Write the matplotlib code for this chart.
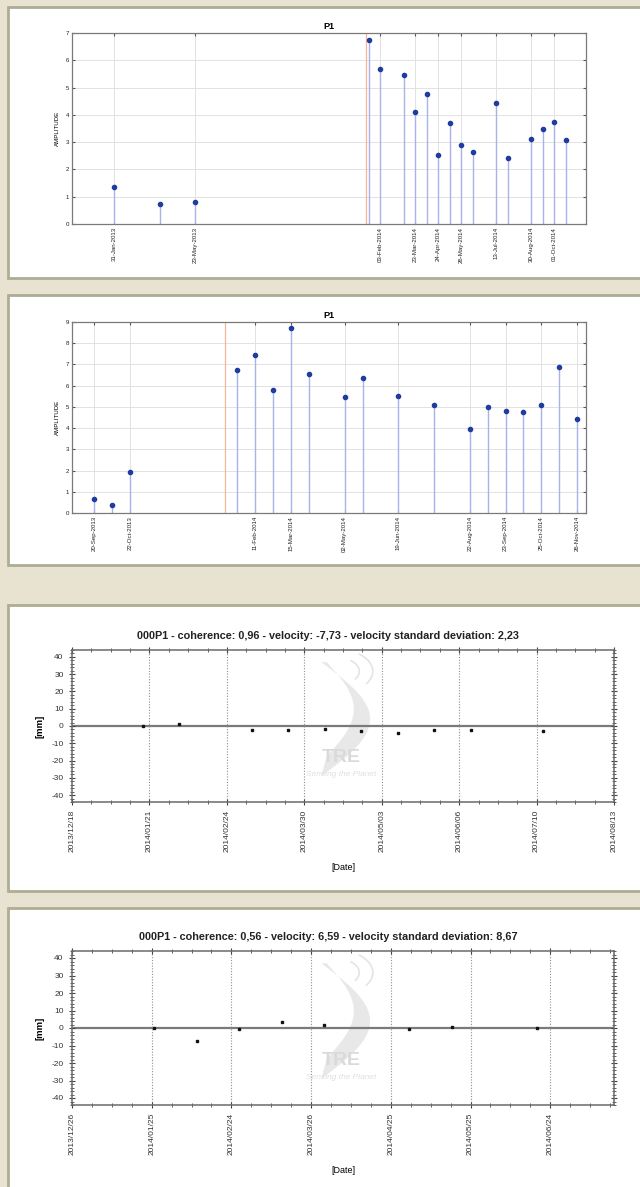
import numpy as np
import pandas as pd
import matplotlib
matplotlib.use("Agg")
import matplotlib.pyplot as plt
import matplotlib.dates as mdates
from matplotlib.patches import Rectangle, Polygon

W, H = 640, 1187

# ---- panel 1 : amplitude stems ----
p1_dates = ['2013-01-31', '2013-04-05', '2013-05-23', '2014-01-18', '2014-02-03',
            '2014-03-07', '2014-03-23', '2014-04-08', '2014-04-24', '2014-05-10',
            '2014-05-26', '2014-06-11', '2014-07-13', '2014-07-29', '2014-08-30',
            '2014-09-15', '2014-10-01', '2014-10-17']
p1_amp = [1.37, 0.73, 0.81, 6.74, 5.67, 5.47, 4.10, 4.75, 2.54, 3.71,
          2.88, 2.64, 4.45, 2.43, 3.10, 3.49, 3.74, 3.08]
p1_ticks = ['2013-01-31', '2013-05-23', '2014-02-03', '2014-03-23', '2014-04-24',
            '2014-05-26', '2014-07-13', '2014-08-30', '2014-10-01']
p1_xlim = ['2012-12-04', '2014-11-14']
p1_event = '2014-01-14'

# ---- panel 2 : amplitude stems ----
p2_dates = ['2013-09-20', '2013-10-06', '2013-10-22', '2014-01-26', '2014-02-11',
            '2014-02-27', '2014-03-15', '2014-03-31', '2014-05-02', '2014-05-18',
            '2014-06-19', '2014-07-21', '2014-08-22', '2014-09-07', '2014-09-23',
            '2014-10-09', '2014-10-25', '2014-11-10', '2014-11-26']
p2_amp = [0.68, 0.40, 1.91, 6.73, 7.44, 5.80, 8.74, 6.57, 5.47, 6.35,
          5.52, 5.07, 3.97, 5.00, 4.82, 4.77, 5.07, 6.90, 4.41]
p2_ticks = ['2013-09-20', '2013-10-22', '2014-02-11', '2014-03-15', '2014-05-02',
            '2014-06-19', '2014-08-22', '2014-09-23', '2014-10-25', '2014-11-26']
p2_xlim = ['2013-08-31', '2014-12-04']
p2_event = '2014-01-15'

# ---- panel 3 : displacement ----
p3_title = '000P1 - coherence: 0,96 - velocity: -7,73 - velocity standard deviation: 2,23'
p3_dates = ['2014-01-18', '2014-02-03', '2014-03-07', '2014-03-23', '2014-04-08',
            '2014-04-24', '2014-05-10', '2014-05-26', '2014-06-11', '2014-07-13']
p3_mm = [0.0, 1.4, -2.6, -2.1, -1.5, -3.0, -4.0, -2.6, -2.6, -3.0]
p3_ticks = ['2013-12-18', '2014-01-21', '2014-02-24', '2014-03-30', '2014-05-03',
            '2014-06-06', '2014-07-10', '2014-08-13']

# ---- panel 4 : displacement ----
p4_title = '000P1 - coherence: 0,56 - velocity: 6,59 - velocity standard deviation: 8,67'
p4_dates = ['2014-01-26', '2014-02-11', '2014-02-27', '2014-03-15', '2014-03-31',
            '2014-05-02', '2014-05-18', '2014-06-19']
p4_mm = [0.0, -7.5, -0.8, 3.7, 1.7, -0.4, 0.6, 0.0]
p4_ticks = ['2013-12-26', '2014-01-25', '2014-02-24', '2014-03-26', '2014-04-25',
            '2014-05-25', '2014-06-24']
p4_xlim = ['2013-12-26', '2014-07-18']


def rect(l, t, r, b):
    return [l / W, 1 - b / H, (r - l) / W, (b - t) / H]


def to_num(d):
    return mdates.date2num(pd.to_datetime(d))


plt.rcParams['font.family'] = ['Liberation Sans', 'DejaVu Sans']
plt.rcParams['axes.unicode_minus'] = False

fig = plt.figure(figsize=(W / 100, H / 100), dpi=100)
fig.patch.set_facecolor('#e8e2d0')

for (x0, y0, x1, y1) in [(8, 7, 648, 278), (8, 295, 648, 565),
                         (8, 605, 648, 891), (8, 908, 648, 1195)]:
    fig.add_artist(Rectangle((x0 / W, 1 - y1 / H), (x1 - x0) / W, (y1 - y0) / H,
                             transform=fig.transFigure, facecolor='white',
                             edgecolor='#aeac94', lw=2, zorder=-10))


def amp_panel(box, dates, amp, ticks, xlim, event, ymax):
    ax = fig.add_axes(rect(*box))
    x = to_num(dates)
    ax.vlines(x, 0, amp, color='#aab2ea', lw=1, zorder=2)
    ax.plot(x, amp, 'o', ms=3.0, color='#1f3c9e', zorder=3)
    ax.axvline(to_num(event), color='#f6b49a', lw=0.9, zorder=1)
    ax.set_xlim(to_num(xlim[0]), to_num(xlim[1]))
    ax.set_ylim(0, ymax)
    ax.set_yticks(range(ymax + 1))
    ax.set_xticks(to_num(ticks))
    ax.xaxis.set_major_formatter(mdates.DateFormatter('%d-%b-%Y'))
    ax.grid(True, color='#e2e2e2', lw=0.7, zorder=0)
    ax.set_axisbelow(True)
    ax.tick_params(direction='in', length=2.5, top=True, right=True,
                   labelsize=4.4, colors='#555555', labelcolor='#222222', pad=2)
    plt.setp(ax.get_xticklabels(), rotation=90)
    for s in ax.spines.values():
        s.set_color('#7a7a7a')
        s.set_linewidth(0.9)
    ax.set_ylabel('AMPLITUDE', fontsize=4.4, labelpad=4)
    ax.set_title('P1', fontsize=6.5, fontweight='bold', pad=3)
    return ax


amp_panel((72, 33, 586, 224), p1_dates, p1_amp, p1_ticks, p1_xlim, p1_event, 7)
amp_panel((72, 322, 586, 513), p2_dates, p2_amp, p2_ticks, p2_xlim, p2_event, 9)


def tre_logo(ax):
    # light grey watermark
    t = np.linspace(0, 1, 40)
    outer_x = 0.46 + 0.09 * np.sin(np.pi * t)
    outer_y = 0.92 - 0.75 * t
    inner_x = 0.47 + 0.05 * np.sin(np.pi * t[::-1])
    inner_y = 0.92 - 0.62 * t[::-1]
    pts = np.column_stack([np.r_[outer_x, inner_x], np.r_[outer_y, inner_y]])
    ax.add_patch(Polygon(pts, closed=True, transform=ax.transAxes,
                         facecolor='#e8e8e8', edgecolor='none', zorder=0))
    for r in (0.04, 0.065):
        th = np.linspace(-0.6, 0.9, 20)
        ax.plot(0.49 + r * np.cos(th), 0.86 + 2.2 * r * np.sin(th),
                transform=ax.transAxes, color='#e4e4e4', lw=1.2, zorder=0)
    ax.text(0.497, 0.29, 'TRE', transform=ax.transAxes, ha='center', va='center',
            fontsize=14, fontweight='bold', color='#dadada', zorder=0)
    ax.text(0.497, 0.18, 'Sensing the Planet', transform=ax.transAxes,
            ha='center', va='center', fontsize=6, style='italic',
            color='#e0e0e0', zorder=0)


def disp_panel(box, dates, mm, ticks, xlim, title):
    ax = fig.add_axes(rect(*box))
    tre_logo(ax)
    major = to_num(ticks)
    ax.axhline(0, color='#7a7a7a', lw=1.6, zorder=1)
    for xv in major[1:]:
        ax.axvline(xv, color='#909090', lw=0.8, ls=(0, (1, 1.5)), zorder=1)
    ax.plot(to_num(dates), mm, 's', ms=2, color='#111111', zorder=3)
    ax.set_xlim(to_num(xlim[0]), to_num(xlim[1]))
    ax.set_ylim(-44, 44)
    ax.set_yticks(range(-40, 41, 10))
    ax.set_yticks(range(-44, 45, 2), minor=True)
    minors = []
    edges = list(major)
    if to_num(xlim[1]) > edges[-1] + 1:
        edges.append(edges[-1] + (edges[-1] - edges[-2]))
    for a, b in zip(edges[:-1], edges[1:]):
        minors.extend(np.linspace(a, b, 5)[1:-1])
    ax.set_xticks(major)
    ax.set_xticks(minors, minor=True)
    ax.xaxis.set_major_formatter(mdates.DateFormatter('%Y/%m/%d'))
    ax.tick_params(which='major', direction='inout', length=5, top=True, right=True,
                   labelsize=6, colors='#444444', labelcolor='#333333', width=0.8)
    ax.tick_params(which='minor', direction='inout', length=3, top=True, right=True,
                   colors='#444444', width=0.6)
    ax.tick_params(axis='x', which='major', pad=3, labelsize=6)
    plt.setp(ax.get_xticklabels(), rotation=90)
    for s in ax.spines.values():
        s.set_color('#6a6a6a')
        s.set_linewidth(1.1)
    ax.set_ylabel('[mm]', fontsize=6.8, fontweight='bold', labelpad=5)
    ax.set_xlabel('[Date]', fontsize=6.5, labelpad=8)
    ax.set_title(title, fontsize=7.8, fontweight='bold', color='#222222', pad=8,
                 x=0.472)
    return ax


disp_panel((72, 650, 614, 802), p3_dates, p3_mm, p3_ticks,
           [p3_ticks[0], p3_ticks[-1]], p3_title)
disp_panel((72, 951, 614, 1105), p4_dates, p4_mm, p4_ticks, p4_xlim, p4_title)

fig.savefig('out.png', dpi=100, facecolor=fig.get_facecolor())
